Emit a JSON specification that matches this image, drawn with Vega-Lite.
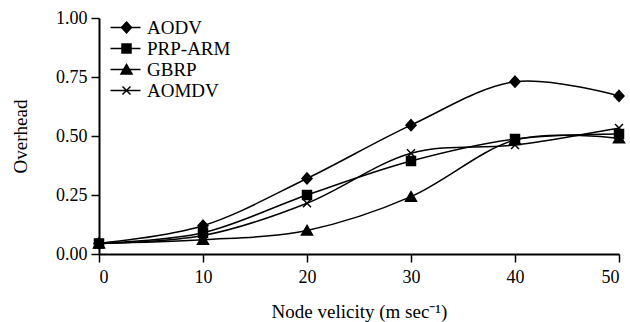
{
  "$schema": "https://vega.github.io/schema/vega-lite/v6.json",
  "width": 520,
  "height": 236,
  "autosize": "none",
  "padding": {"left": 99, "top": 18, "right": 11, "bottom": 68},
  "background": "white",
  "config": {
    "view": {"stroke": null},
    "font": "Liberation Serif",
    "axis": {
      "labelFont": "Liberation Serif",
      "titleFont": "Liberation Serif",
      "labelFontSize": 18,
      "titleFontSize": 19,
      "titleFontWeight": "normal",
      "labelColor": "black",
      "titleColor": "black",
      "domainColor": "black",
      "domainWidth": 2,
      "tickColor": "black",
      "tickWidth": 1.5,
      "tickSize": 8,
      "grid": false
    },
    "legend": {
      "labelFont": "Liberation Serif",
      "labelFontSize": 19,
      "padding": 0,
      "rowPadding": 1
    }
  },
  "data": {
    "values": [
      {"s": "AODV", "x": 0, "y": 0.045},
      {"s": "AODV", "x": 10, "y": 0.12},
      {"s": "AODV", "x": 20, "y": 0.32},
      {"s": "AODV", "x": 30, "y": 0.546},
      {"s": "AODV", "x": 40, "y": 0.73},
      {"s": "AODV", "x": 50, "y": 0.67},
      {"s": "PRP-ARM", "x": 0, "y": 0.045},
      {"s": "PRP-ARM", "x": 10, "y": 0.09},
      {"s": "PRP-ARM", "x": 20, "y": 0.25},
      {"s": "PRP-ARM", "x": 30, "y": 0.394},
      {"s": "PRP-ARM", "x": 40, "y": 0.487},
      {"s": "PRP-ARM", "x": 50, "y": 0.508},
      {"s": "GBRP", "x": 0, "y": 0.045},
      {"s": "GBRP", "x": 10, "y": 0.06},
      {"s": "GBRP", "x": 20, "y": 0.10},
      {"s": "GBRP", "x": 30, "y": 0.243},
      {"s": "GBRP", "x": 40, "y": 0.483},
      {"s": "GBRP", "x": 50, "y": 0.49},
      {"s": "AOMDV", "x": 0, "y": 0.045},
      {"s": "AOMDV", "x": 10, "y": 0.078},
      {"s": "AOMDV", "x": 20, "y": 0.215},
      {"s": "AOMDV", "x": 30, "y": 0.427},
      {"s": "AOMDV", "x": 40, "y": 0.462},
      {"s": "AOMDV", "x": 50, "y": 0.534}
    ]
  },
  "encoding": {
    "x": {
      "field": "x",
      "type": "quantitative",
      "scale": {"domain": [0, 50], "nice": false},
      "axis": {"values": [0, 10, 20, 30, 40, 50], "title": "Node velicity (m sec⁻¹)", "labelPadding": 6, "titlePadding": 16}
    },
    "y": {
      "field": "y",
      "type": "quantitative",
      "scale": {"domain": [0, 1], "nice": false},
      "axis": {"values": [0, 0.25, 0.5, 0.75, 1], "format": ".2f", "title": "Overhead", "labelPadding": 4, "titlePadding": 25}
    }
  },
  "layer": [
    {
      "mark": {"type": "line", "interpolate": "cardinal", "strokeWidth": 1.5},
      "encoding": {
        "color": {
          "field": "s",
          "type": "nominal",
          "sort": ["AODV", "PRP-ARM", "GBRP", "AOMDV"],
          "scale": {"range": ["black"]},
          "legend": {
            "title": null,
            "orient": "none",
            "legendX": 17,
            "legendY": 0,
            "symbolType": "M-2.5,0H2.5",
            "symbolSize": 144,
            "symbolStrokeWidth": 1.5,
            "labelOffset": 10,
            "labelExpr": "' '",
            "labelColor": "transparent"
          }
        }
      }
    },
    {
      "mark": {"type": "point", "filled": true, "fill": "black", "stroke": "black", "strokeWidth": 1.5, "opacity": 1, "size": 100},
      "encoding": {
        "shape": {
          "field": "s",
          "type": "nominal",
          "scale": {
            "domain": ["AODV", "PRP-ARM", "GBRP", "AOMDV"],
            "range": [
              "M0,-1.1L1,0L0,1.1L-1,0Z",
              "M-0.9,-0.9H0.9V0.9H-0.9Z",
              "M0,-1L1.1,0.9H-1.1Z",
              "M-0.8,-0.8L0.8,0.8M-0.8,0.8L0.8,-0.8"
            ]
          },
          "legend": {
            "title": null,
            "orient": "none",
            "legendX": 18,
            "legendY": 0,
            "labelColor": "black",
            "labelOffset": 11,
            "symbolSize": 100,
            "symbolFillColor": "black",
            "symbolStrokeColor": "black",
            "symbolStrokeWidth": 1.5,
            "encoding": {
              "symbols": {
                "fill": {"value": "black"},
                "stroke": {"value": "black"},
                "strokeWidth": {"value": 1.5},
                "opacity": {"value": 1}
              }
            }
          }
        }
      }
    }
  ]
}
